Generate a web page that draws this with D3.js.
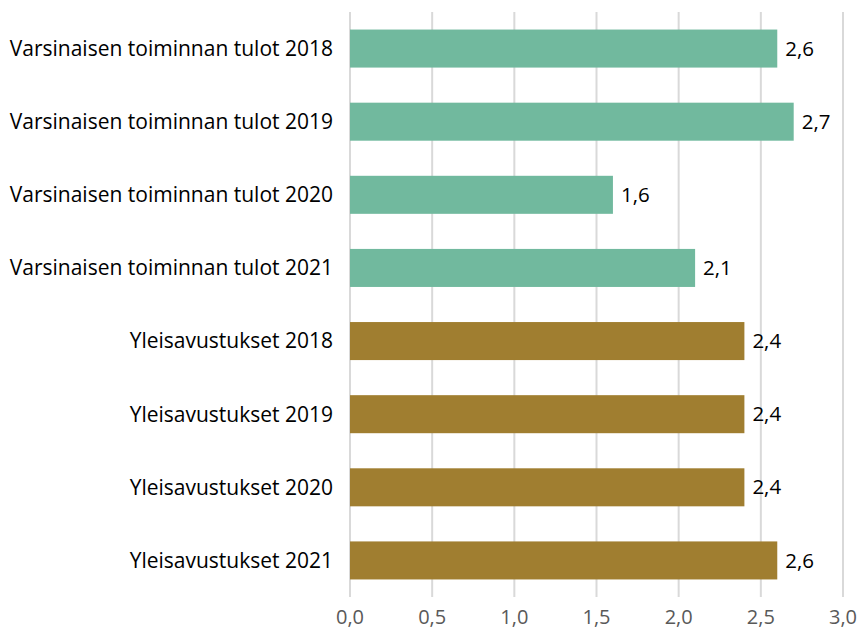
<!DOCTYPE html>
<html>
	<head>
		<meta charset="utf-8">
		<title>Tulot</title>
		<script src="https://d3js.org/d3.v7.min.js"></script>
		<style>
			html, body { margin: 0; background: #fff; }
			svg { display: block; font-family: "Open Sans", Calibri, sans-serif; }
			.grid line { stroke: #d9d9d9; stroke-width: 2; }
			.cat { font-size: 21px; fill: #000; }
			.val { font-size: 20.5px; fill: #000; }
			.tick-lbl { font-size: 20px; fill: #595959; }
		</style>
	</head>
	<body>
		<svg id="chart" width="861" height="630"></svg>
		<script>
			// categories and values, top to bottom
			const categories = [
				"Varsinaisen toiminnan tulot 2018",
				"Varsinaisen toiminnan tulot 2019",
				"Varsinaisen toiminnan tulot 2020",
				"Varsinaisen toiminnan tulot 2021",
				"Yleisavustukset 2018",
				"Yleisavustukset 2019",
				"Yleisavustukset 2020",
				"Yleisavustukset 2021"
			];
			const values = [2.6, 2.7, 1.6, 2.1, 2.4, 2.4, 2.4, 2.6];
			const groups = ["tulot", "tulot", "tulot", "tulot", "avustus", "avustus", "avustus", "avustus"];
			const ticks = [0, 0.5, 1.0, 1.5, 2.0, 2.5, 3.0];

			const colors = { tulot: "#71b99e", avustus: "#a07e30" };

			const margin = {top: 12, right: 18, bottom: 33, left: 350};
			const width = 861, height = 630;

			const svg = d3.select("#chart");

			const x = d3.scaleLinear()
				.domain([0, 3])
				.range([margin.left, width - margin.right]);

			const y = d3.scaleBand()
				.domain(categories)
				.range([margin.top, height - margin.bottom])
				.paddingInner(0.48)
				.paddingOuter(0.24);

			const fmt = d => d3.format(".1f")(d).replace(".", ",");

			// vertical gridlines
			svg.append("g").attr("class", "grid")
				.selectAll("line")
				.data(ticks)
				.join("line")
				.attr("x1", d => x(d)).attr("x2", d => x(d))
				.attr("y1", margin.top).attr("y2", height - margin.bottom);

			// bars
			svg.append("g")
				.selectAll("rect")
				.data(values)
				.join("rect")
				.attr("x", x(0))
				.attr("y", (d, i) => y(categories[i]))
				.attr("width", d => x(d) - x(0))
				.attr("height", y.bandwidth())
				.attr("fill", (d, i) => colors[groups[i]]);

			// value labels
			svg.append("g")
				.selectAll("text")
				.data(values)
				.join("text")
				.attr("class", "val")
				.attr("x", d => x(d) + 8)
				.attr("y", (d, i) => y(categories[i]) + y.bandwidth() / 2)
				.attr("dy", "0.35em")
				.text(fmt);

			// category labels
			svg.append("g")
				.selectAll("text")
				.data(categories)
				.join("text")
				.attr("class", "cat")
				.attr("x", margin.left - 17)
				.attr("y", d => y(d) + y.bandwidth() / 2)
				.attr("dy", "0.35em")
				.attr("text-anchor", "end")
				.text(d => d);

			// x axis tick labels
			svg.append("g")
				.selectAll("text")
				.data(ticks)
				.join("text")
				.attr("class", "tick-lbl")
				.attr("x", d => x(d))
				.attr("y", height - 6)
				.attr("text-anchor", "middle")
				.text(fmt);
		</script>
	</body>
</html>
